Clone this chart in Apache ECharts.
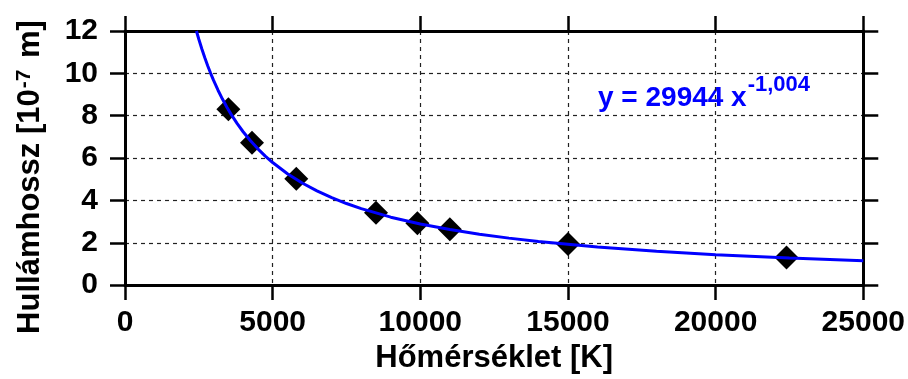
<!DOCTYPE html>
<html>
<head>
<meta charset="utf-8">
<script src="https://cdn.jsdelivr.net/npm/echarts@6/dist/echarts.min.js"></script>
<style>
html,body{margin:0;padding:0;background:#fff;}
#chart{width:908px;height:379px;}
</style>
</head>
<body>
<div id="chart"></div>
<script>
// Measured points: temperature [K] and wavelength [1e-7 m]
const temperatures = [3500, 4300, 5800, 8500, 9900, 11000, 15000, 22400];
const wavelengths  = [8.30, 6.72, 5.02, 3.42, 2.92, 2.64, 1.94, 1.30];

// Fit curve y = 29944 x^-1.004, sampled values
const fitX = [2419, 2500, 2600, 2700, 2800, 2900, 3000, 3150, 3300, 3450, 3600, 3800, 4000, 4250, 4500, 4750, 5000, 5500, 6000, 6500, 7000, 7500, 8000, 9000, 10000, 11000, 12000, 13000, 14000, 16000, 18000, 20000, 22500, 25000];
const fitY = [12.000, 11.609, 11.160, 10.744, 10.360, 10.001, 9.667, 9.203, 8.785, 8.402, 8.050, 7.625, 7.242, 6.815, 6.434, 6.093, 5.788, 5.260, 4.820, 4.448, 4.129, 3.852, 3.611, 3.208, 2.886, 2.623, 2.403, 2.218, 2.059, 1.800, 1.600, 1.439, 1.279, 1.150];

const xTicks = [0, 5000, 10000, 15000, 20000, 25000];
const yTicks = [0, 2, 4, 6, 8, 10, 12];

const yTitleParts = ['Hullámhossz [10', '-7', ' m]'];
const eqParts = ['y = 29944 x', '-1,004'];

const FONT = '"Liberation Sans", Arial, Helvetica, sans-serif';

function textWidth(str, size) {
  const c = document.createElement('canvas').getContext('2d');
  c.font = 'bold ' + size + 'px ' + FONT;
  return c.measureText(str).width;
}

const chart = echarts.init(document.getElementById('chart'), null, {renderer: 'canvas'});

const axisLineStyle = {color: '#000', width: 3};
const tickStyle = {color: '#000', width: 2.5};
const gridStyle = {color: '#222', width: 1.2, type: [4, 4]};

// y-axis title with superscript (rotated group)
const TS = 31, SS = 21;
const w0 = textWidth(yTitleParts[0], TS);
const w1 = textWidth(yTitleParts[1], SS);
const w2 = textWidth(yTitleParts[2], TS);
const totalW = w0 + w1 + 4 + w2;
const yTitleGroup = {
  type: 'group',
  x: 46, y: 177,
  rotation: Math.PI / 2,
  children: [
    {type: 'text', x: -totalW / 2, y: 0,
     style: {text: yTitleParts[0], fontSize: TS, fontWeight: 'bold', fontFamily: FONT, fill: '#000', textAlign: 'left', textVerticalAlign: 'bottom'}},
    {type: 'text', x: -totalW / 2 + w0 + 1, y: -11,
     style: {text: yTitleParts[1], fontSize: SS, fontWeight: 'bold', fontFamily: FONT, fill: '#000', textAlign: 'left', textVerticalAlign: 'bottom'}},
    {type: 'text', x: -totalW / 2 + w0 + w1 + 4, y: 0,
     style: {text: yTitleParts[2], fontSize: TS, fontWeight: 'bold', fontFamily: FONT, fill: '#000', textAlign: 'left', textVerticalAlign: 'bottom'}}
  ]
};

// equation with superscript
const ES = 28, ESS = 22;
const ew0 = textWidth(eqParts[0], ES);
const eqGroup = {
  type: 'group',
  x: 598, y: 112,
  children: [
    {type: 'text', x: 0, y: 0,
     style: {text: eqParts[0], fontSize: ES, fontWeight: 'bold', fontFamily: FONT, fill: '#0000ff', textAlign: 'left', textVerticalAlign: 'bottom'}},
    {type: 'text', x: ew0 + 1, y: -16,
     style: {text: eqParts[1], fontSize: ESS, fontWeight: 'bold', fontFamily: FONT, fill: '#0000ff', textAlign: 'left', textVerticalAlign: 'bottom'}}
  ]
};

const option = {
  backgroundColor: '#fff',
  animation: false,
  grid: {left: 125, right: 44, top: 31, bottom: 89, containLabel: false},
  xAxis: [{
    type: 'value', min: xTicks[0], max: xTicks[xTicks.length - 1], interval: 5000,
    position: 'bottom',
    axisLine: {show: true, onZero: false, lineStyle: axisLineStyle},
    axisTick: {show: true, inside: false, length: 15, lineStyle: tickStyle},
    axisLabel: {show: true, margin: 23, color: '#000', fontSize: 30, fontWeight: 'bold', fontFamily: FONT,
                formatter: v => String(v)},
    splitLine: {show: true, lineStyle: gridStyle},
    name: 'Hőmérséklet [K]', nameLocation: 'middle', nameGap: 57,
    nameTextStyle: {color: '#000', fontSize: 31, fontWeight: 'bold', fontFamily: FONT}
  }, {
    type: 'value', min: xTicks[0], max: xTicks[xTicks.length - 1], interval: 5000,
    position: 'top',
    axisLine: {show: true, onZero: false, lineStyle: axisLineStyle},
    axisTick: {show: true, inside: false, length: 15, lineStyle: tickStyle},
    axisLabel: {show: false},
    splitLine: {show: false}
  }],
  yAxis: [{
    type: 'value', min: yTicks[0], max: yTicks[yTicks.length - 1], interval: 2,
    position: 'left',
    axisLine: {show: true, onZero: false, lineStyle: axisLineStyle},
    axisTick: {show: true, inside: false, length: 15, lineStyle: tickStyle},
    axisLabel: {show: true, margin: 27, color: '#000', fontSize: 30, fontWeight: 'bold', fontFamily: FONT,
                formatter: v => String(v)},
    splitLine: {show: true, lineStyle: gridStyle}
  }, {
    type: 'value', min: yTicks[0], max: yTicks[yTicks.length - 1], interval: 2,
    position: 'right',
    axisLine: {show: true, onZero: false, lineStyle: axisLineStyle},
    axisTick: {show: true, inside: false, length: 15, lineStyle: tickStyle},
    axisLabel: {show: false},
    splitLine: {show: false}
  }],
  graphic: [yTitleGroup, eqGroup],
  series: [{
    type: 'scatter',
    name: 'Mért',
    data: temperatures.map((t, i) => [t, wavelengths[i]]),
    symbol: 'diamond',
    symbolSize: 24,
    itemStyle: {color: '#000', opacity: 1},
    z: 2
  }, {
    type: 'line',
    name: 'Illesztés',
    data: fitX.map((x, i) => [x, fitY[i]]),
    showSymbol: false,
    smooth: false,
    lineStyle: {color: '#0000ff', width: 3},
    clip: true,
    z: 3
  }]
};
chart.setOption(option);
</script>
</body>
</html>
